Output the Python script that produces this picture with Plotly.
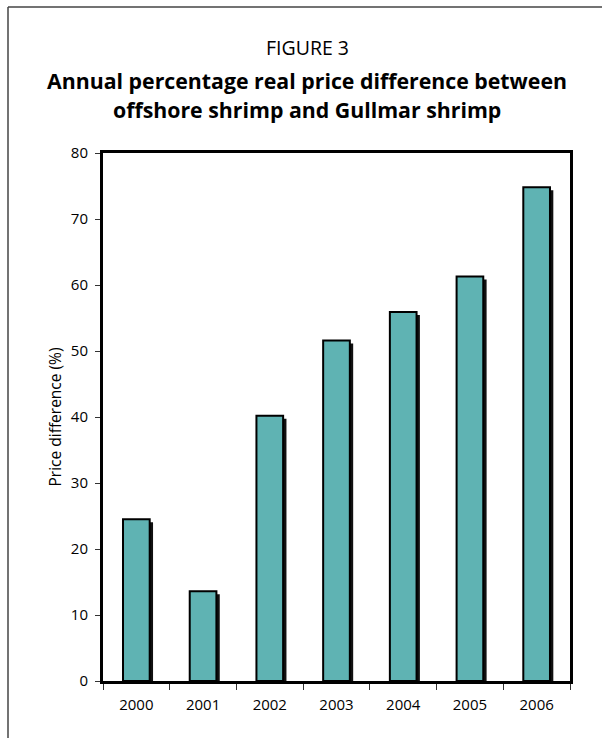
import plotly.graph_objects as go

years = ["2000", "2001", "2002", "2003", "2004", "2005", "2006"]
price_diff = [24.5, 13.6, 40.2, 51.6, 55.9, 61.3, 74.8]
y_ticks = [0, 10, 20, 30, 40, 50, 60, 70, 80]

FONT = "Open Sans"
TEAL = "#5fb3b3"

# plot area in pixels (figure is 602 x 738)
ML, MR, MT, MB = 103, 32, 153, 57
W, H = 602, 738
PW, PH = W - ML - MR, H - MT - MB


def px_x(px):
    return (px - ML) / PW


def px_y(py):
    return (H - MB - py) / PH


# drop shadow: the same bars nudged right and slightly down
shadow_drop = 0.45
fig = go.Figure()
fig.add_trace(go.Bar(
    x=years, y=[v - shadow_drop for v in price_diff],
    width=0.4, offset=-0.15,
    marker=dict(color="#111111", line=dict(width=0)),
    hoverinfo="skip", showlegend=False,
))
fig.add_trace(go.Bar(
    x=years, y=price_diff,
    width=0.4, offset=-0.2,
    marker=dict(color=TEAL, line=dict(color="black", width=2)),
    showlegend=False,
))

title_lines = [
    ("FIGURE 3", 47, 19.5),
    ("<b>Annual percentage real price difference between</b>", 80, 21.3),
    ("<b>offshore shrimp and Gullmar shrimp</b>", 110, 21.3),
]

fig.update_layout(
    width=W, height=H,
    margin=dict(l=ML, r=MR, t=MT, b=MB, pad=0),
    paper_bgcolor="white", plot_bgcolor="white",
    barmode="overlay",
    font=dict(family=FONT, size=15, color="black"),
    xaxis=dict(
        type="category",
        showline=True, linecolor="black", linewidth=3, mirror=True,
        ticks="outside", tickson="boundaries", ticklen=6, tickwidth=1,
        tickcolor="#333333", showgrid=False,
        tickfont=dict(size=15), ticklabelstandoff=8,
    ),
    yaxis=dict(
        range=[0, 80], tickvals=y_ticks,
        showline=True, linecolor="black", linewidth=3, mirror=True,
        ticks="outside", ticklen=5, tickwidth=1, tickcolor="#333333",
        showgrid=False, zeroline=False,
        tickfont=dict(size=15), ticklabelstandoff=4,
        title=dict(text="Price difference (%)", font=dict(size=15.5), standoff=6),
    ),
    annotations=[
        dict(text=t, x=px_x(307), y=px_y(py), xref="paper", yref="paper",
             xanchor="center", yanchor="middle",
             showarrow=False, font=dict(size=s, family=FONT))
        for t, py, s in title_lines
    ],
    shapes=[
        # frame around the figure: left and top edges
        dict(type="line", xref="paper", yref="paper",
             x0=px_x(8), x1=px_x(8), y0=px_y(7), y1=px_y(740),
             line=dict(color="#444444", width=1.5)),
        dict(type="line", xref="paper", yref="paper",
             x0=px_x(8), x1=px_x(604), y0=px_y(7), y1=px_y(7),
             line=dict(color="#444444", width=1.5)),
    ],
)

fig.write_html("out.html")
